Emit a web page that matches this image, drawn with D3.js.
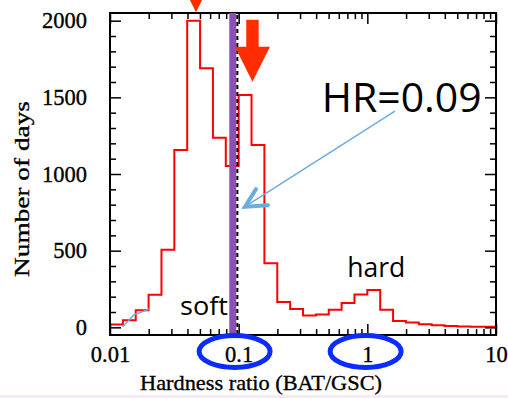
<!DOCTYPE html>
<html>
<head>
<meta charset="utf-8">
<script src="https://cdn.jsdelivr.net/npm/d3@7"></script>
<style>
  html, body { margin: 0; padding: 0; background: #ffffff; }
  svg { display: block; }
</style>
</head>
<body>
<svg id="chart" width="508" height="398"></svg>
<script>
// Histogram of daily hardness ratios (BAT/GSC), 0.1-dex log bins
const binEdges = [0.01, 0.01259, 0.01585, 0.01995, 0.02512, 0.03162, 0.03981, 0.05012,
  0.0631, 0.07943, 0.1, 0.1259, 0.1585, 0.1995, 0.2512, 0.3162, 0.3981, 0.5012,
  0.631, 0.7943, 1, 1.259, 1.585, 1.995, 2.512, 3.162, 3.981, 5.012, 6.31, 7.943, 10];
const dayCounts = [18, 46, 112, 212, 506, 1156, 2000, 1690, 1237, 1052,
  1515, 1189, 418, 166, 120, 77, 83, 114, 158, 214,
  244, 114, 42, 31, 20, 13, 9, 6, 4, 3];

// Axis ticks
const xMajorTicks = [0.01, 0.1, 1, 10];
const xTickLabels = ["0.01", "0.1", "1", "10"];
const xMinorTicks = [0.02, 0.03, 0.04, 0.05, 0.06, 0.07, 0.08, 0.09,
  0.2, 0.3, 0.4, 0.5, 0.6, 0.7, 0.8, 0.9,
  2, 3, 4, 5, 6, 7, 8, 9];
const yMajorTicks = [0, 500, 1000, 1500, 2000];
const yMinorTicks = [100, 200, 300, 400, 600, 700, 800, 900, 1100, 1200, 1300, 1400,
  1600, 1700, 1800, 1900];

// Annotations
const hardnessRatio = 0.09;     // marked ratio (purple line)
const boundaryRatio = 0.1;      // dashed divider
const peakArrows = [{x: 0.0466, y: 2055}, {x: 0.128, y: 1601}];
const circledTicks = [0.093, 0.97];

const svg = d3.select("#chart");
const frame = {left: 110, right: 496, top: 13, bottom: 335};

const x = d3.scaleLog().domain([0.01, 10]).range([frame.left, frame.right]);
const y = d3.scaleLinear().domain([-50, 2050]).range([frame.bottom, frame.top]);

const serif = "'Liberation Serif', 'Times New Roman', serif";
const sans = "'Open Sans', 'Noto Sans', sans-serif";

// faint strip along the bottom edge
svg.append("rect").attr("x", 0).attr("y", 395).attr("width", 508).attr("height", 3)
  .attr("fill", "#f8e9f8");

// histogram outline
const stepPts = binEdges.slice(0, -1).map((e, i) => [e, dayCounts[i]]);
stepPts.push([binEdges[binEdges.length - 1], dayCounts[dayCounts.length - 1]]);
svg.append("path")
  .attr("d", d3.line().x(d => x(d[0])).y(d => y(d[1])).curve(d3.curveStepAfter)(stepPts))
  .attr("fill", "none").attr("stroke", "#ff0000").attr("stroke-width", 2);

// axes: major and minor ticks on all four sides, pointing inward
function styleAxis(g) {
  g.select(".domain").remove();
  g.selectAll(".tick line").attr("stroke", "#000").attr("stroke-width", 1.5);
  g.selectAll("text").attr("fill", "#000").attr("font-family", serif).attr("font-size", 22.5)
    .attr("stroke", "#000").attr("stroke-width", 0.35);
}
svg.append("g").attr("transform", `translate(0,${frame.bottom})`)
  .call(d3.axisBottom(x).tickValues(xMajorTicks).tickFormat((d, i) => xTickLabels[i])
    .tickSizeInner(-11).tickSizeOuter(0).tickPadding(11)).call(styleAxis);
svg.append("g").attr("transform", `translate(0,${frame.bottom})`)
  .call(d3.axisBottom(x).tickValues(xMinorTicks).tickFormat("")
    .tickSizeInner(-6).tickSizeOuter(0)).call(styleAxis);
svg.append("g").attr("transform", `translate(0,${frame.top})`)
  .call(d3.axisTop(x).tickValues(xMajorTicks).tickFormat("")
    .tickSizeInner(-11).tickSizeOuter(0)).call(styleAxis);
svg.append("g").attr("transform", `translate(0,${frame.top})`)
  .call(d3.axisTop(x).tickValues(xMinorTicks).tickFormat("")
    .tickSizeInner(-6).tickSizeOuter(0)).call(styleAxis);
svg.append("g").attr("transform", `translate(${frame.left},0)`)
  .call(d3.axisLeft(y).tickValues(yMajorTicks).tickFormat(d3.format("d"))
    .tickSizeInner(-11).tickSizeOuter(0).tickPadding(23)).call(styleAxis);
svg.append("g").attr("transform", `translate(${frame.left},0)`)
  .call(d3.axisLeft(y).tickValues(yMinorTicks).tickFormat("")
    .tickSizeInner(-6).tickSizeOuter(0)).call(styleAxis);
svg.append("g").attr("transform", `translate(${frame.right},0)`)
  .call(d3.axisRight(y).tickValues(yMajorTicks).tickFormat("")
    .tickSizeInner(-11).tickSizeOuter(0)).call(styleAxis);
svg.append("g").attr("transform", `translate(${frame.right},0)`)
  .call(d3.axisRight(y).tickValues(yMinorTicks).tickFormat("")
    .tickSizeInner(-6).tickSizeOuter(0)).call(styleAxis);

// frame
svg.append("rect").attr("x", frame.left).attr("y", frame.top)
  .attr("width", frame.right - frame.left).attr("height", frame.bottom - frame.top)
  .attr("fill", "none").attr("stroke", "#000").attr("stroke-width", 2);

// axis titles
svg.append("text").attr("x", 140).attr("y", 390)
  .attr("font-family", serif).attr("font-size", 22).attr("fill", "#000")
  .attr("stroke", "#000").attr("stroke-width", 0.35)
  .attr("textLength", 242).attr("lengthAdjust", "spacingAndGlyphs")
  .text("Hardness ratio (BAT/GSC)");
svg.append("text").attr("transform", "translate(29,189) rotate(-90)")
  .attr("text-anchor", "middle")
  .attr("font-family", serif).attr("font-size", 22).attr("fill", "#000")
  .attr("stroke", "#000").attr("stroke-width", 0.35)
  .attr("textLength", 176).attr("lengthAdjust", "spacingAndGlyphs")
  .text("Number of days");

// marked hardness ratio and the dashed divider
svg.append("line").attr("x1", x(hardnessRatio)).attr("x2", x(hardnessRatio))
  .attr("y1", frame.top).attr("y2", frame.bottom)
  .attr("stroke", "#8c4fb6").attr("stroke-width", 7);
svg.append("line").attr("x1", x(boundaryRatio) - 1.3).attr("x2", x(boundaryRatio) - 1.3)
  .attr("y1", frame.top + 2).attr("y2", frame.bottom)
  .attr("stroke", "#000").attr("stroke-width", 2).attr("stroke-dasharray", "4,3");

// red arrows over the two peaks
function arrowPath(tx, ty) {
  const shaftW = 6.2, shaftL = 27, headW = 17.5, headH = 35;
  return [
    [tx - shaftW, ty - headH - shaftL], [tx + shaftW, ty - headH - shaftL],
    [tx + shaftW, ty - headH], [tx + headW, ty - headH], [tx, ty],
    [tx - headW, ty - headH], [tx - shaftW, ty - headH]
  ].map((p, i) => (i ? "L" : "M") + p[0] + "," + p[1]).join("") + "Z";
}
svg.selectAll(".peak-arrow").data(peakArrows).join("path")
  .attr("class", "peak-arrow")
  .attr("d", d => arrowPath(x(d.x), y(d.y)))
  .attr("fill", "#ff2d00");

// callout for HR
const callFrom = [x(1.64), y(1410)], callTo = [x(0.112), y(787)];
svg.append("line").attr("x1", callFrom[0]).attr("y1", callFrom[1])
  .attr("x2", callTo[0]).attr("y2", callTo[1])
  .attr("stroke", "#6cade0").attr("stroke-width", 1.5);
svg.append("path")
  .attr("d", `M${callTo[0] + 11},${callTo[1] - 17.5}L${callTo[0]},${callTo[1]}L${callTo[0] + 23},${callTo[1] - 1.5}`)
  .attr("fill", "none").attr("stroke", "#6cade0").attr("stroke-width", 4)
  .attr("stroke-linecap", "round").attr("stroke-linejoin", "miter");
svg.append("path")
  .attr("d", `M${x(0.0125)},${y(2)}L${x(0.0154)},${y(82)}L${x(0.0202)},${y(119)}`)
  .attr("fill", "none").attr("stroke", "#6cade0").attr("stroke-width", 1.5);

svg.append("text").attr("x", 321.7).attr("y", 111.7)
  .attr("font-family", sans).attr("font-size", 40).attr("fill", "#000")
  .attr("textLength", 160).attr("lengthAdjust", "spacingAndGlyphs")
  .text("HR=0.09");
svg.append("text").attr("x", 180).attr("y", 315)
  .attr("font-family", sans).attr("font-size", 25).attr("fill", "#000")
  .attr("textLength", 48).attr("lengthAdjust", "spacingAndGlyphs")
  .text("soft");
svg.append("text").attr("x", 347.3).attr("y", 277.3)
  .attr("font-family", sans).attr("font-size", 27).attr("fill", "#000")
  .attr("textLength", 58).attr("lengthAdjust", "spacingAndGlyphs")
  .text("hard");

// blue rings around two tick labels
svg.selectAll(".ring").data(circledTicks).join("ellipse")
  .attr("class", "ring")
  .attr("cx", d => x(d)).attr("cy", 351.5)
  .attr("rx", 35.5).attr("ry", 16)
  .attr("fill", "none").attr("stroke", "#0a2cff").attr("stroke-width", 5);
</script>
</body>
</html>
